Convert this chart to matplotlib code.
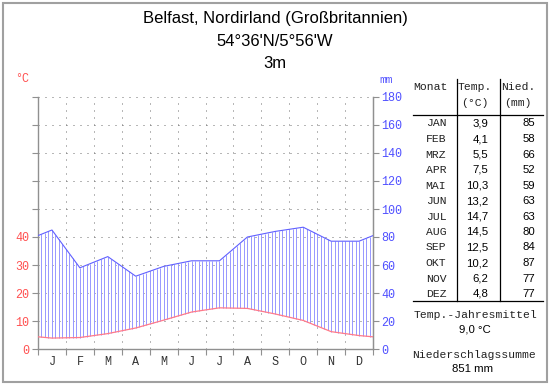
import numpy as np
import matplotlib
matplotlib.use("Agg")
import matplotlib.pyplot as plt
from matplotlib.lines import Line2D
from matplotlib.patches import Rectangle

# ---- data ----
title_lines = ["Belfast, Nordirland (Großbritannien)", "54°36'N/5°56'W", "3m"]
month_initials = ["J", "F", "M", "A", "M", "J", "J", "A", "S", "O", "N", "D"]
month_names = ["JAN", "FEB", "MRZ", "APR", "MAI", "JUN", "JUL", "AUG", "SEP", "OKT", "NOV", "DEZ"]
temp = [3.9, 4.1, 5.5, 7.5, 10.3, 13.2, 14.7, 14.5, 12.5, 10.2, 6.2, 4.8]
prec = [85, 58, 66, 52, 59, 63, 63, 80, 84, 87, 77, 77]
temp_ticks = [0, 10, 20, 30, 40]
prec_ticks = [0, 20, 40, 60, 80, 100, 120, 140, 160, 180]
temp_mean = "9,0 °C"
prec_sum = "851 mm"

W, H = 550, 384
fig = plt.figure(figsize=(W / 100, H / 100), dpi=100)
fig.patch.set_facecolor("white")

def fx(x):
    return x / W

def fy(y):
    return 1 - y / H

RED = "#ff5050"
BLUE = "#5050ff"
HATCH = "#9a9aff"
TLINE = "#ff7a8a"
GRAY = "#909090"
MONO = "Liberation Mono"
SANS = "Liberation Sans"

# figure border
fig.add_artist(Rectangle((fx(2.5), fy(381.5)), fx(544), 1 - fy(379), transform=fig.transFigure,
                         fill=False, edgecolor="#a0a0a0", lw=1.5))

# axes
x0, x1, ytop, ybot = 38, 373, 97, 349
ax = fig.add_axes([fx(x0), fy(ybot), fx(x1 - x0), fy(ytop) - fy(ybot)])
ax.set_xlim(0, 12)
ax.set_ylim(0, 90)
ax.patch.set_alpha(0)

# extended series (wrap-around at year edges)
t = np.array(temp)
p = np.array(prec) / 2.0
xs = np.concatenate([[0], np.arange(12) + 0.5, [12]])
t_ext = np.concatenate([[(t[0] + t[-1]) / 2], t, [(t[0] + t[-1]) / 2]])
p_ext = np.concatenate([[(p[0] + p[-1]) / 2], p, [(p[0] + p[-1]) / 2]])

# grid
dot = (0, (1, 6))
for yv in range(10, 91, 10):
    ax.plot([0, 12], [yv, yv], color="#707070", lw=0.72, ls=dot, zorder=1)
for xv in range(1, 12):
    ax.plot([xv, xv], [0, 90], color="#707070", lw=0.72, ls=dot, zorder=1)

# hatching
hx = np.arange(0, 12.001, 0.125)
ax.vlines(hx, np.interp(hx, xs, t_ext), np.interp(hx, xs, p_ext), color=HATCH, lw=0.72, zorder=2)
ax.plot(xs, p_ext, color="#6060ff", lw=0.8, zorder=3)
ax.plot(xs, t_ext, color=TLINE, lw=0.9, zorder=3)

for s in ["top"]:
    ax.spines[s].set_visible(False)
for s in ["left", "right", "bottom"]:
    ax.spines[s].set_color(GRAY)
    ax.spines[s].set_linewidth(1.0)

ax.set_xticks(range(13))
ax.set_xticklabels([])
ax.set_xticks(np.arange(12) + 0.5, minor=True)
ax.set_xticklabels(month_initials, minor=True, fontfamily=MONO, fontsize=8.5, color="#333333")
ax.tick_params(axis="x", which="major", length=4, color=GRAY, direction="out")
ax.tick_params(axis="x", which="minor", length=0, pad=5)

ax.set_yticks(range(0, 91, 10))
ax.set_yticklabels([str(v) if v in temp_ticks else "" for v in range(0, 91, 10)],
                   fontfamily=MONO, fontsize=8.5, color=RED)
ax.tick_params(axis="y", length=4, color=GRAY, pad=2)

ax2 = ax.twinx()
ax2.set_ylim(0, 180)
ax2.set_yticks(prec_ticks)
ax2.set_yticklabels([str(v) for v in prec_ticks], fontfamily=MONO, fontsize=8.5, color=BLUE)
ax2.tick_params(axis="y", length=4, color=GRAY, pad=2)
for s in ["top", "left", "bottom"]:
    ax2.spines[s].set_visible(False)
ax2.spines["right"].set_color(GRAY)

fig.text(fx(22), fy(79), "°C", color=RED, fontfamily=MONO, fontsize=8.5, ha="center", va="center")
fig.text(fx(386), fy(80), "mm", color=BLUE, fontfamily=MONO, fontsize=8, ha="center", va="center")

# title
for txt, yy in zip(title_lines, [18, 42, 63]):
    fig.text(fx(275), fy(yy), txt, fontfamily=SANS, fontsize=12, ha="center", va="center", color="black")

# table
line_kw = dict(transform=fig.transFigure, color="black", lw=0.9)
fig.add_artist(Line2D([fx(457), fx(457)], [fy(79), fy(301)], **line_kw))
fig.add_artist(Line2D([fx(499.5), fx(499.5)], [fy(79), fy(301)], **line_kw))
fig.add_artist(Line2D([fx(413), fx(543)], [fy(114.5), fy(114.5)], **line_kw))
fig.add_artist(Line2D([fx(413), fx(543)], [fy(301), fy(301)], **line_kw))

mono_kw = dict(fontfamily=MONO, fontsize=8.2, color="#222222", va="center")
fig.text(fx(430), fy(87), "Monat", ha="center", **mono_kw)
fig.text(fx(475), fy(87), "Temp.", ha="center", **mono_kw)
fig.text(fx(475), fy(103), "(°C)", ha="center", **mono_kw)
fig.text(fx(518), fy(87), "Nied.", ha="center", **mono_kw)
fig.text(fx(518), fy(103), "(mm)", ha="center", **mono_kw)

sans_kw = dict(fontfamily=SANS, fontsize=8.2, color="black", va="center")
for i, (m, tv, pv) in enumerate(zip(month_names, temp, prec)):
    yy = 123.5 + i * 15.5
    fig.text(fx(436), fy(yy), m, ha="center", **mono_kw)
    fig.text(fx(488.5), fy(yy), f"{tv:.1f}".replace(".", ","), ha="right", **sans_kw)
    fig.text(fx(535.5), fy(yy), str(pv), ha="right", **sans_kw)

fig.text(fx(475), fy(315), "Temp.-Jahresmittel", ha="center", **mono_kw)
fig.text(fx(475), fy(330), temp_mean, ha="center", **sans_kw)
fig.text(fx(474), fy(355), "Niederschlagssumme", ha="center", **mono_kw)
fig.text(fx(473), fy(369.5), prec_sum, ha="center", **sans_kw)

fig.savefig("out.png", dpi=100, facecolor="white")
